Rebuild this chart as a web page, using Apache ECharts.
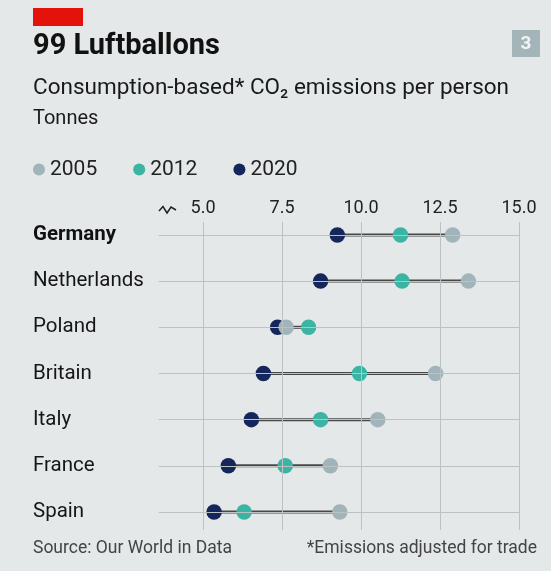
<!DOCTYPE html>
<html><head><meta charset="utf-8">
<script src="https://cdn.jsdelivr.net/npm/echarts@6/dist/echarts.min.js"></script>
<style>html,body{margin:0;padding:0;background:#e4e8e8}#c{width:551px;height:571px}</style>
</head><body><div id="c"></div>
<script>
const categories = ['Germany', 'Netherlands', 'Poland', 'Britain', 'Italy', 'France', 'Spain'];
const years = ['2005', '2012', '2020'];
const values2005 = [12.9, 13.4, 7.63, 12.36, 10.53, 9.03, 9.33];
const values2012 = [11.25, 11.3, 8.34, 9.95, 8.72, 7.6, 6.3];
const values2020 = [9.25, 8.72, 7.36, 6.91, 6.53, 5.8, 5.35];
const xTicks = [5, 7.5, 10, 12.5, 15];

const FONT = 'Roboto, "Open Sans", sans-serif';
const colors = { '2005': '#a0b4ba', '2012': '#3cb4a4', '2020': '#15265a' };
const valuesByYear = { '2005': values2005, '2012': values2012, '2020': values2020 };
const rowIdx = categories.map((c, i) => i);

const chart = echarts.init(document.getElementById('c'), null, { renderer: 'canvas' });

const dotSeries = ['2020', '2012', '2005'].map(y => ({
  name: y,
  type: 'scatter',
  symbol: 'circle',
  symbolSize: 15.5,
  itemStyle: { color: colors[y], opacity: 1 },
  z: 4,
  silent: true,
  data: valuesByYear[y].map((v, i) => [v, i])
}));

chart.setOption({
  backgroundColor: '#e4e8e8',
  animation: false,
  textStyle: { fontFamily: FONT },
  grid: { left: 158.8, right: 32, top: 222, bottom: 41 },
  legend: {
    data: years,
    left: 33, top: 159, padding: 0,
    icon: 'circle', itemWidth: 12, itemHeight: 12, itemGap: 36,
    textStyle: { fontSize: 21, color: '#222', fontFamily: FONT },
    selectedMode: false
  },
  xAxis: {
    type: 'value', min: 3.6, max: 15, position: 'top',
    axisLine: { show: false }, axisTick: { show: false }, splitLine: { show: false },
    axisLabel: {
      customValues: xTicks, formatter: v => Number(v).toFixed(1),
      fontSize: 18, color: '#222', margin: 5, fontFamily: FONT
    }
  },
  yAxis: {
    type: 'value', inverse: true, min: -0.28, max: 6.39,
    axisLine: { show: false }, axisTick: { show: false }, splitLine: { show: false },
    axisLabel: {
      customValues: rowIdx, align: 'left', margin: 125.8,
      formatter: v => (v === 0 ? '{b|' + categories[v] + '}' : categories[v]),
      fontSize: 20.5, color: '#161616', fontFamily: FONT,
      rich: { b: { fontSize: 20.5, fontWeight: 'bold', color: '#111', fontFamily: FONT } }
    }
  },
  series: [
    {
      type: 'line', data: [], silent: true, z: 1,
      markLine: {
        silent: true, symbol: ['none', 'none'], animation: false,
        label: { show: false },
        lineStyle: { color: '#bcc2c3', width: 1, type: 'solid' },
        data: xTicks.map(v => ({ xAxis: v })).concat(rowIdx.map(i => ({ yAxis: i })))
      }
    },
    {
      type: 'custom', silent: true, z: 2,
      encode: { x: [1, 2], y: 0 },
      data: categories.map((c, i) => {
        const vs = [values2005[i], values2012[i], values2020[i]];
        return [i, Math.min(...vs), Math.max(...vs)];
      }),
      renderItem: (params, api) => {
        const y = api.value(0);
        const p1 = api.coord([api.value(1), y]);
        const p2 = api.coord([api.value(2), y]);
        return { type: 'line', shape: { x1: p1[0], y1: p1[1], x2: p2[0], y2: p2[1] },
          style: { stroke: '#484848', lineWidth: 3 } };
      }
    }
  ].concat(dotSeries),
  graphic: [
    { type: 'rect', shape: { x: 33, y: 8, width: 50, height: 18 }, style: { fill: '#e3120b' } },
    { type: 'text', x: 33, y: 47, style: { text: '99 Luftballons', font: 'bold 29px ' + FONT, fill: '#111', verticalAlign: 'middle' } },
    { type: 'text', x: 33, y: 88, style: { text: 'Consumption-based* CO₂ emissions per person', font: '22.5px ' + FONT, fill: '#1a1a1a', verticalAlign: 'middle' } },
    { type: 'text', x: 33, y: 119, style: { text: 'Tonnes', font: '20px ' + FONT, fill: '#1a1a1a', verticalAlign: 'middle' } },
    { type: 'rect', shape: { x: 512, y: 30, width: 28, height: 27 }, style: { fill: '#a4b5b9' } },
    { type: 'text', x: 526, y: 44, style: { text: '3', font: 'bold 19px ' + FONT, fill: '#f2f4f4', align: 'center', verticalAlign: 'middle' } },
    { type: 'polyline', shape: { points: [[159, 211], [163, 206.5], [167, 213], [171, 207], [176, 210]] }, style: { stroke: '#222', lineWidth: 1.5, fill: null } },
    { type: 'text', x: 33, y: 549, style: { text: 'Source: Our World in Data', font: '17.5px ' + FONT, fill: '#444', verticalAlign: 'middle' } },
    { type: 'text', x: 537, y: 549, style: { text: '*Emissions adjusted for trade', font: '17.5px ' + FONT, fill: '#444', align: 'right', verticalAlign: 'middle' } }
  ]
});
</script>
</body></html>
